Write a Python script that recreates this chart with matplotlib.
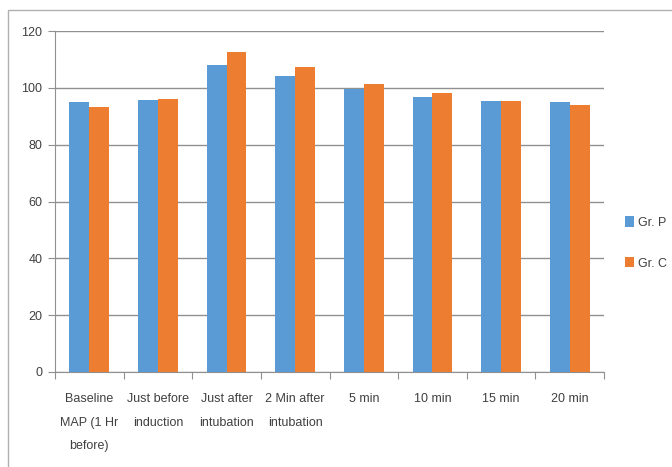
import matplotlib
matplotlib.use("Agg")
import matplotlib.pyplot as plt
import numpy as np
from matplotlib.patches import Rectangle

categories = ["Baseline\nMAP (1 Hr\nbefore)", "Just before\ninduction", "Just after\nintubation",
              "2 Min after\nintubation", "5 min", "10 min", "15 min", "20 min"]
gr_p = [95.0, 95.7, 108.0, 104.1, 99.6, 96.6, 95.5, 95.0]
gr_c = [93.3, 96.0, 112.7, 107.4, 101.5, 98.2, 95.5, 93.9]
yticks = [0, 20, 40, 60, 80, 100, 120]

plt.rcParams['font.family'] = ['Liberation Sans', 'DejaVu Sans']

fig = plt.figure(figsize=(6.72, 4.67), dpi=100)
fig.patches.append(Rectangle((8/672, -0.01), 1.0, 1 - 10/467 + 0.01, transform=fig.transFigure,
                             fill=False, edgecolor='#b0b0b0', linewidth=1.0))
ax = fig.add_axes([55/672, 1 - 372/467, (604 - 55)/672, (372 - 31)/467])

x = np.arange(len(categories))
w = 0.29
ax.bar(x - w/2, gr_p, w, color='#5B9BD5', label='Gr. P', zorder=3)
ax.bar(x + w/2, gr_c, w, color='#ED7D31', label='Gr. C', zorder=3)

ax.set_xlim(-0.5, len(categories) - 0.5)
ax.set_ylim(0, 120)
ax.set_yticks(yticks)
ax.set_yticklabels([str(v) for v in yticks], fontsize=9, color='#404040')
ax.yaxis.grid(True, color='#909090', linewidth=1.0, zorder=0)
ax.set_axisbelow(True)

ax.set_xticks(np.arange(len(categories) + 1) - 0.5)
ax.set_xticklabels([])
ax.set_xticks(x, minor=True)
ax.set_xticklabels(categories, minor=True, fontsize=9, color='#404040', linespacing=2.3)
ax.tick_params(axis='x', which='minor', length=0, pad=15)
ax.tick_params(axis='x', which='major', length=5, color='#909090', direction='out')
ax.tick_params(axis='y', length=5, color='#909090', pad=4)

for s in ['top', 'right']:
    ax.spines[s].set_visible(False)
ax.spines['left'].set_color('#909090')
ax.spines['bottom'].set_color('#909090')

leg = fig.legend(loc='center left', bbox_to_anchor=(620/672, 1 - 243/467), frameon=False,
                 fontsize=9, handlelength=0.7, handleheight=0.9, handletextpad=0.3,
                 labelspacing=2.25, borderaxespad=0)
for t in leg.get_texts():
    t.set_color('#404040')

fig.savefig("out.png", dpi=100)
